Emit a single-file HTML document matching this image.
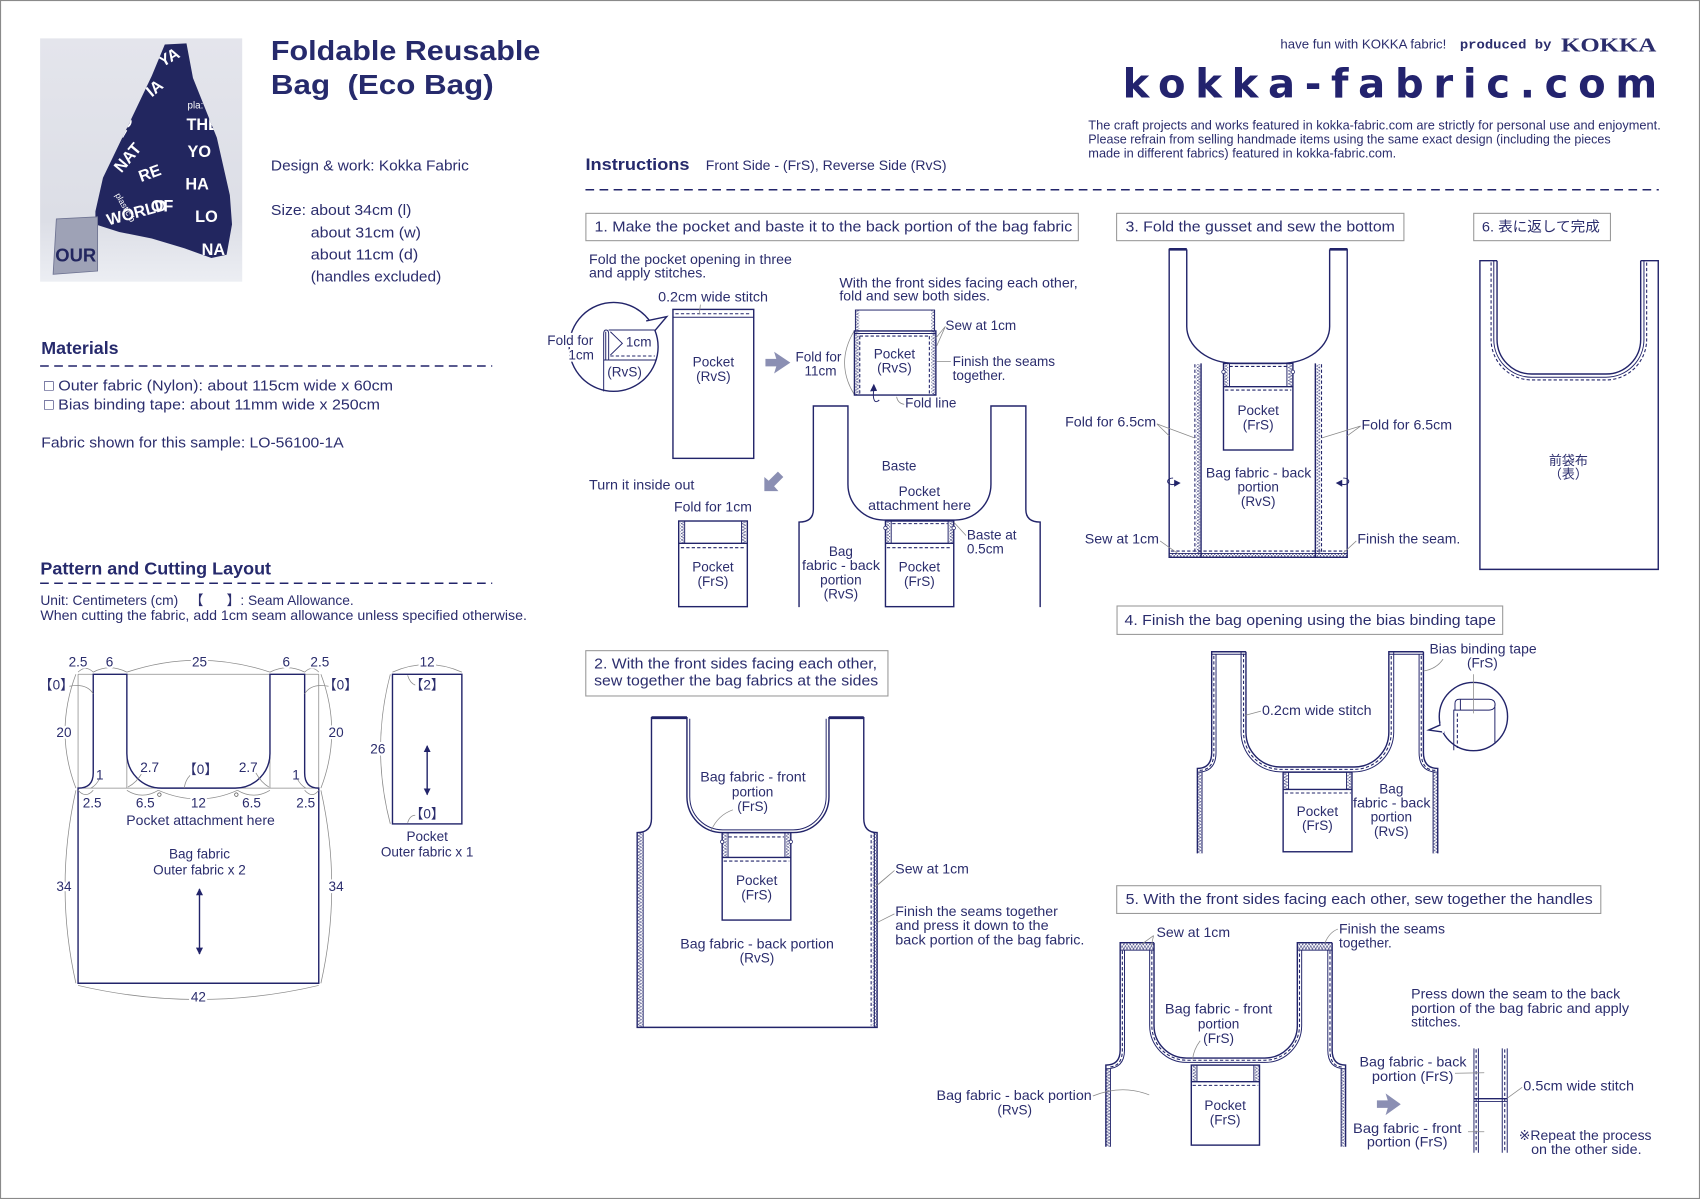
<!DOCTYPE html>
<html><head><meta charset="utf-8">
<style>
html,body{margin:0;padding:0;background:#fff}
svg{display:block}
text{font-family:"Liberation Sans","DejaVu Sans","Noto Sans CJK JP",sans-serif;fill:#2b2d6d;white-space:pre}
.s{font-size:12.5px}
.m{font-size:14px}
.c{text-anchor:middle}
.h{paint-order:stroke;stroke:#fff;stroke-width:4px;stroke-linejoin:round}
.n{fill:none;stroke:#22246a;stroke-width:1.3}
.n2{fill:none;stroke:#22246a;stroke-width:0.9}
.d{fill:none;stroke:#22246a;stroke-width:1;stroke-dasharray:3 2}
.g{fill:none;stroke:#8a8a8a;stroke-width:0.7}
.b{fill:#fff;stroke:#9a9a9a;stroke-width:1}
.z{fill:url(#zz);stroke:none}
.ga{fill:#8b8fb3}
.w{fill:#fff;font-weight:bold}
</style></head><body>
<svg width="1700" height="1199" viewBox="0 0 1568 1106" preserveAspectRatio="none" xmlns="http://www.w3.org/2000/svg" xml:space="preserve">
<defs>
<pattern id="zz" width="4" height="3" patternUnits="userSpaceOnUse"><path d="M0,0 L4,1.5 L0,3" fill="none" stroke="#22246a" stroke-width="0.5"/></pattern>
<pattern id="zh" width="3" height="4" patternUnits="userSpaceOnUse"><path d="M0,0 L1.5,4 L3,0" fill="none" stroke="#22246a" stroke-width="0.5"/></pattern>
<marker id="ah" viewBox="0 0 10 10" refX="9" refY="5" markerWidth="5" markerHeight="5" orient="auto-start-reverse"><path d="M0,0 L10,5 L0,10 z" fill="#22246a"/></marker>
<linearGradient id="pg" x1="0" y1="0" x2="0" y2="1"><stop offset="0" stop-color="#e4e5ec"/><stop offset="0.75" stop-color="#dcdee6"/><stop offset="1" stop-color="#eceef3"/></linearGradient>
<clipPath id="bagclip"><polygon points="152,41 172,40 178,72 200,127 212,180 214,207 209,235 195,238 170,229 140,220 110,214 88,207 88,195 95,164 120,112 140,70"/></clipPath>
</defs>
<rect x="0" y="0" width="1568" height="1106" fill="#fff"/>
<rect x="0.5" y="0.5" width="1567" height="1105" fill="none" stroke="#8a8a8a" stroke-width="1"/>

<!-- ===== HEADER LEFT ===== -->
<rect x="37" y="35.4" width="186.4" height="224.4" fill="url(#pg)"/>
<polygon points="152,41 172,40 178,72 200,127 212,180 214,207 209,235 195,238 170,229 140,220 110,214 88,207 88,195 95,164 120,112 140,70" fill="#22265f"/>
<g clip-path="url(#bagclip)" style="font-size:15px">
<text class="w" x="150" y="62" transform="rotate(-30 150 62)">YA</text>
<text class="w" x="140" y="90" transform="rotate(-40 140 90)">IA</text>
<text class="w" x="172" y="120">THE</text>
<text class="w" x="113" y="128" transform="rotate(-60 113 128)">LO</text>
<text class="w" x="173" y="145">YO</text>
<text class="w" x="112" y="160" transform="rotate(-50 112 160)">NAT</text>
<text class="w" x="130" y="168" transform="rotate(-20 130 168)">RE</text>
<text class="w" x="171" y="175">HA</text>
<text class="w" x="139" y="195">OF</text>
<text class="w" x="100" y="208" transform="rotate(-15 100 208)">WORLD</text>
<text class="w" x="180" y="205">LO</text>
<text class="w" x="186" y="235">NA</text>
<text x="173" y="100" style="fill:#fff;font-size:9px">pla:</text>
<text x="106" y="180" transform="rotate(60 106 180)" style="fill:#fff;font-size:8px">plastic b</text>
</g>
<polygon points="52,202 90,200 90,250 49,253" fill="#9ea2b6" stroke="#6e7392" stroke-width="0.8"/>
<text x="51" y="241" style="font-size:17px;fill:#22265f;font-weight:bold">OUR</text>

<text x="249.9" y="55.4" textLength="248.5" lengthAdjust="spacingAndGlyphs" style="font-size:26px;font-weight:bold;fill:#262a6c">Foldable Reusable</text>
<text x="249.9" y="86.5" textLength="205.4" lengthAdjust="spacingAndGlyphs" style="font-size:26px;font-weight:bold;fill:#262a6c">Bag  (Eco Bag)</text>

<text class="m" x="249.9" y="157.4" textLength="182.5" lengthAdjust="spacingAndGlyphs">Design &amp; work: Kokka Fabric</text>
<text class="m" x="249.9" y="198.3" textLength="129.6" lengthAdjust="spacingAndGlyphs">Size: about 34cm (l)</text>
<text class="m" x="286.6" y="219" textLength="101.7" lengthAdjust="spacingAndGlyphs">about 31cm (w)</text>
<text class="m" x="286.6" y="239.2" textLength="99.2" lengthAdjust="spacingAndGlyphs">about 11cm (d)</text>
<text class="m" x="286.6" y="259.8" textLength="120.4" lengthAdjust="spacingAndGlyphs">(handles excluded)</text>

<text x="38.1" y="326.6" textLength="71.3" lengthAdjust="spacingAndGlyphs" style="font-size:16px;font-weight:bold;fill:#262a6c">Materials</text>
<line x1="37" y1="337.6" x2="454" y2="337.6" stroke="#22246a" stroke-width="1.4" stroke-dasharray="8 5"/>
<text class="m" x="40.6" y="360.4" textLength="321.9" lengthAdjust="spacingAndGlyphs">□ Outer fabric (Nylon): about 115cm wide x 60cm</text>
<text class="m" x="40.6" y="377.6" textLength="309.9" lengthAdjust="spacingAndGlyphs">□ Bias binding tape: about 11mm wide x 250cm</text>
<text class="m" x="38.1" y="412.7" textLength="278.9" lengthAdjust="spacingAndGlyphs">Fabric shown for this sample: LO-56100-1A</text>

<text x="37.2" y="529.8" textLength="212.8" lengthAdjust="spacingAndGlyphs" style="font-size:16px;font-weight:bold;fill:#262a6c">Pattern and Cutting Layout</text>
<line x1="37" y1="538" x2="454" y2="538" stroke="#22246a" stroke-width="1.4" stroke-dasharray="8 5"/>
<text class="s" x="37.2" y="558" textLength="289.1" lengthAdjust="spacingAndGlyphs">Unit: Centimeters (cm)   【      】: Seam Allowance.</text>
<text class="s" x="37.2" y="572" textLength="448.8" lengthAdjust="spacingAndGlyphs">When cutting the fabric, add 1cm seam allowance unless specified otherwise.</text>

<!-- ===== PATTERN ===== -->
<path class="g" stroke="#b0b0b0" stroke-width="1" d="M72,622 L294,622 M72,622 L72,727 M294,622 L294,727 M72,727 L294,727 M117,690 L117,727 M249,690 L249,727"/>
<path class="n" stroke-width="1.5" d="M86,622 L117,622 L117,695 A32,32 0 0 0 149,727 L217,727 A32,32 0 0 0 249,695 L249,622 L281,622 L281,713 Q281,727 294,727 L294,907 L72,907 L72,727 Q86,727 86,713 Z"/>
<rect class="n" stroke-width="1.5" x="362" y="622" width="64" height="138"/>
<path class="g" d="M72,620 Q79,613 86,620 M86,620 Q101,612 117,620 M117,620 Q183,598 249,620 M249,620 Q265,612 281,620 M281,620 Q288,613 294,620
M70,622 Q50,675 70,727 M70,729 Q50,818 70,907 M296,622 Q316,675 296,727 M296,729 Q316,818 296,907 M72,909 Q183,935 294,909
M72,729 Q79,737 86,729 M117,729 Q131,738 146,729 M146,729 Q183,745 219,729 M219,729 Q234,738 249,729 M281,729 Q288,737 294,729
M131,713 Q126,722 118,726 M236,713 Q241,722 248,726 M92,718 Q89,724 84,727 M274,718 Q277,724 282,727
M64,633 Q80,630 86,640 M303,633 Q287,630 281,640 M178,713 Q171,718 170,727
M362,620 Q394,606 426,620 M360,622 Q342,691 360,760 M383,632 Q378,630 376,623 M383,752 Q378,752 376,759"/>
<circle cx="147" cy="733" r="1.6" fill="#fff" stroke="#555" stroke-width="0.7"/>
<circle cx="218" cy="733" r="1.6" fill="#fff" stroke="#555" stroke-width="0.7"/>
<line x1="184" y1="820" x2="184" y2="880" stroke="#22246a" stroke-width="1.3" marker-start="url(#ah)" marker-end="url(#ah)"/>
<line x1="394" y1="688" x2="394" y2="733" stroke="#22246a" stroke-width="1.3" marker-start="url(#ah)" marker-end="url(#ah)"/>
<g class="s">
<text class="c h" x="72" y="615">2.5</text>
<text class="c h" x="101" y="615">6</text>
<text class="c h" x="184" y="615">25</text>
<text class="c h" x="264" y="615">6</text>
<text class="c h" x="295" y="615">2.5</text>
<text class="c h" x="52" y="636">【0】</text>
<text class="c h" x="314" y="636">【0】</text>
<text class="c h" x="59" y="680">20</text>
<text class="c h" x="310" y="680">20</text>
<text class="c h" x="138" y="712">2.7</text>
<text class="c h" x="185" y="714">【0】</text>
<text class="c h" x="229" y="712">2.7</text>
<text class="c" x="92" y="719">1</text>
<text class="c" x="273" y="719">1</text>
<text class="c h" x="85" y="745">2.5</text>
<text class="c h" x="134" y="745">6.5</text>
<text class="c h" x="183" y="745">12</text>
<text class="c h" x="232" y="745">6.5</text>
<text class="c h" x="282" y="745">2.5</text>
<text class="c" x="185" y="761" textLength="137" lengthAdjust="spacingAndGlyphs">Pocket attachment here</text>
<text class="c" x="184" y="792">Bag fabric</text>
<text class="c" x="184" y="806.5">Outer fabric x 2</text>
<text class="c h" x="59" y="822">34</text>
<text class="c h" x="310" y="822">34</text>
<text class="c h" x="183" y="924">42</text>
<text class="c h" x="394" y="615">12</text>
<text class="c" x="394" y="636">【2】</text>
<text class="c h" x="348.5" y="695">26</text>
<text class="c" x="394" y="755">【0】</text>
<text class="c" x="394" y="776">Pocket</text>
<text class="c" x="394" y="790">Outer fabric x 1</text>
</g>

<!-- ===== HEADER RIGHT ===== -->
<text x="1181" y="44.6" textLength="153" lengthAdjust="spacingAndGlyphs" style="font-size:12px">have fun with KOKKA fabric!</text>
<text x="1346.5" y="44.6" textLength="84.5" lengthAdjust="spacingAndGlyphs" style="font-family:'Liberation Mono',monospace;font-size:12px;font-weight:bold">produced by</text>
<text x="1439.8" y="47.7" textLength="87.9" lengthAdjust="spacingAndGlyphs" style="font-family:'Liberation Serif',serif;font-size:18px;font-weight:bold">KOKKA</text>
<text x="1035.5" y="90" textLength="493" lengthAdjust="spacing" style="font-family:'DejaVu Sans',sans-serif;font-size:37px;font-weight:bold;fill:#23236e">kokka-fabric.com</text>
<text x="1003.8" y="119.3" textLength="528" lengthAdjust="spacingAndGlyphs" style="font-size:11.5px">The craft projects and works featured in kokka-fabric.com are strictly for personal use and enjoyment.</text>
<text x="1003.8" y="132.2" textLength="481.8" lengthAdjust="spacingAndGlyphs" style="font-size:11.5px">Please refrain from selling handmade items using the same exact design (including the pieces</text>
<text x="1003.8" y="145.4" textLength="284" lengthAdjust="spacingAndGlyphs" style="font-size:11.5px">made in different fabrics) featured in kokka-fabric.com.</text>

<text x="540" y="157" textLength="96" lengthAdjust="spacingAndGlyphs" style="font-size:15px;font-weight:bold;fill:#262a6c">Instructions</text>
<text class="s" x="651" y="157" textLength="222" lengthAdjust="spacingAndGlyphs">Front Side - (FrS), Reverse Side (RvS)</text>
<line x1="540" y1="175" x2="1530" y2="175" stroke="#22246a" stroke-width="1.4" stroke-dasharray="8 5"/>

<!-- ===== STEP BOXES ===== -->
<rect class="b" x="540.4" y="196.8" width="454.2" height="25.2"/>
<text x="548.3" y="213.7" textLength="440.7" lengthAdjust="spacingAndGlyphs" style="font-size:13.5px">1. Make the pocket and baste it to the back portion of the bag fabric</text>
<rect class="b" x="1029.9" y="196.8" width="265" height="25.2"/>
<text x="1038.1" y="213.7" textLength="248.5" lengthAdjust="spacingAndGlyphs" style="font-size:13.5px">3. Fold the gusset and sew the bottom</text>
<rect class="b" x="1359.3" y="196.8" width="126.1" height="25.2"/>
<text x="1366.8" y="213.7" textLength="108.8" lengthAdjust="spacingAndGlyphs" style="font-size:13px">6. 表に返して完成</text>
<rect class="b" x="540.3" y="600.2" width="278.7" height="41.8"/>
<text x="548" y="616.5" textLength="261" lengthAdjust="spacingAndGlyphs" style="font-size:13.5px">2. With the front sides facing each other,</text>
<text x="548" y="632.5" textLength="262" lengthAdjust="spacingAndGlyphs" style="font-size:13.5px">sew together the bag fabrics at the sides</text>
<rect class="b" x="1030.3" y="559" width="355.7" height="26.2"/>
<text x="1037.2" y="576.6" textLength="342.6" lengthAdjust="spacingAndGlyphs" style="font-size:13.5px">4. Finish the bag opening using the bias binding tape</text>
<rect class="b" x="1030" y="817" width="446.5" height="25.6"/>
<text x="1038.2" y="834" textLength="430.9" lengthAdjust="spacingAndGlyphs" style="font-size:13.5px">5. With the front sides facing each other, sew together the handles</text>

<!-- ===== STEP 1 ===== -->
<g class="s">
<text x="543.3" y="243.5" textLength="187.1" lengthAdjust="spacingAndGlyphs">Fold the pocket opening in three</text>
<text x="543.3" y="256.2" textLength="108.1" lengthAdjust="spacingAndGlyphs">and apply stitches.</text>
<text x="607" y="278.3" textLength="101.4" lengthAdjust="spacingAndGlyphs">0.2cm wide stitch</text>
<text x="774.2" y="265" textLength="219.8" lengthAdjust="spacingAndGlyphs">With the front sides facing each other,</text>
<text x="774.2" y="277.4" textLength="139" lengthAdjust="spacingAndGlyphs">fold and sew both sides.</text>
</g>
<rect class="n" x="620.7" y="285.4" width="74.5" height="137.4"/>
<line class="n2" x1="620.7" y1="292.6" x2="695.2" y2="292.6"/>
<line class="d" x1="623" y1="289.4" x2="693" y2="289.4"/>
<path class="g" d="M646,281 L645,290"/>
<text class="s c" x="658" y="338.3">Pocket</text>
<text class="s c" x="658" y="351.5">(RvS)</text>
<circle cx="566" cy="320" r="41" fill="#fff" stroke="#22246a" stroke-width="1.3"/>
<path d="M596,296 L615,292 L604,305" fill="#fff" stroke="#22246a" stroke-width="1.3" stroke-linejoin="miter"/>
<path d="M594,297 L603,304" stroke="#fff" stroke-width="2.5"/>
<path class="n2" d="M556.8,332 L556.8,308 Q556.8,304.4 559,304.4 Q561.4,304.4 561.4,308 L561.4,332 M558.7,306 L558.7,332 M561.4,304.4 L604,304.4 M556.8,332 L556.8,361 M556.8,332.1 L605,332.1"/>
<path class="n2" d="M563,306 L574,316.7 L563,327.5"/>
<line class="d" x1="563" y1="328.4" x2="604" y2="328.4"/>
<text class="s" x="577.3" y="319.8">1cm</text>
<text class="s" x="560.1" y="347.5">(RvS)</text>
<text class="s h" x="504.8" y="318.3">Fold for</text>
<text class="s c h" x="536" y="331.5">1cm</text>
<path class="ga" d="M706,331 L716,331 L714,324.5 L729,334.5 L714,344.5 L716,338 L706,338 Z"/>
<text class="s" x="733.7" y="333.6">Fold for</text>
<text class="s" x="742" y="346.6">11cm</text>
<path class="g" d="M788,305 Q770,335 788,364"/>
<rect class="n2" x="789" y="286" width="73" height="19.3"/>
<rect class="z" x="789" y="286" width="3.5" height="78"/>
<rect class="z" x="859" y="286" width="3.5" height="78"/>
<rect class="n" x="788.1" y="305.3" width="75.1" height="59.1"/>
<line class="n2" x1="788.1" y1="307.6" x2="863.2" y2="307.6"/>
<path class="d" d="M793,310 L858,310 M793,310 L793,364 M857.2,310 L857.2,364"/>
<text class="s c" x="825" y="330.6">Pocket</text>
<text class="s c" x="825" y="343.8">(RvS)</text>
<path class="n2" d="M811,369 C807,373 804.5,369 806,359"/>
<polygon points="806,354 802.5,361 809,360.5" fill="#22246a"/>
<path class="g" d="M872,301 L863,312 M872,301 L864,319 M877,333.6 L863.5,333.6 M834,373 Q828,372 827,366"/>
<g class="s">
<text x="872" y="304.4">Sew at 1cm</text>
<text x="878.7" y="337.6">Finish the seams</text>
<text x="878.7" y="350.5">together.</text>
<text x="834.9" y="375.8">Fold line</text>
<text x="543.3" y="451.4" textLength="97.2" lengthAdjust="spacingAndGlyphs">Turn it inside out</text>
<text x="621.7" y="472" textLength="71.8" lengthAdjust="spacingAndGlyphs">Fold for 1cm</text>
</g>
<path class="ga" d="M705,440 L705,453 L718,453 L714,448.5 L722.5,440 L717.5,435 L709,443.5 Z"/>
<rect class="n" x="626" y="480.6" width="63.3" height="79"/>
<rect class="z" x="627.5" y="481.5" width="3.5" height="19.5"/>
<rect class="z" x="684.5" y="481.5" width="3.5" height="19.5"/>
<path class="n2" d="M631.5,480.6 L631.5,501.2 M684,480.6 L684,501.2"/>
<line class="n" x1="626" y1="501.2" x2="689.3" y2="501.2"/>
<line class="d" x1="628" y1="505.2" x2="687" y2="505.2"/>
<text class="s c" x="657.6" y="527.4">Pocket</text>
<text class="s c" x="657.6" y="540.6">(FrS)</text>
<path class="n" d="M737,560 L737,481.6 Q750.2,481.6 750.2,470 L750.2,374.5 L782.1,374.5 L782.1,446.7 A33,33 0 0 0 815.1,479.7 L881,479.7 A33,33 0 0 0 914,446.7 L914,374.5 L946.2,374.5 L946.2,470 Q946.2,481.6 959.4,481.6 L959.4,560"/>
<rect class="n" x="816.7" y="480.6" width="63" height="79"/>
<rect class="z" x="817.5" y="481.5" width="3.5" height="19.5"/>
<rect class="z" x="875.5" y="481.5" width="3.5" height="19.5"/>
<path class="n2" d="M822,480.6 L822,501.2 M874.5,480.6 L874.5,501.2"/>
<line class="d" x1="823" y1="483" x2="874" y2="483"/>
<line class="n" x1="816.7" y1="501.2" x2="879.7" y2="501.2"/>
<line class="d" x1="818" y1="505.2" x2="878" y2="505.2"/>
<circle cx="816.7" cy="487" r="1.6" fill="#fff" stroke="#22246a" stroke-width="0.7"/>
<circle cx="879.7" cy="487" r="1.6" fill="#fff" stroke="#22246a" stroke-width="0.7"/>
<path class="g" d="M891,494 L880,482"/>
<g class="s">
<text class="c" x="829.3" y="434.2">Baste</text>
<text class="c" x="848" y="457.6">Pocket</text>
<text class="c" x="848.2" y="470.5" textLength="95" lengthAdjust="spacingAndGlyphs">attachment here</text>
<text class="c" x="848" y="527.4">Pocket</text>
<text class="c" x="848" y="540.6">(FrS)</text>
<text class="c" x="775.6" y="512.9">Bag</text>
<text class="c" x="775.7" y="525.8" textLength="72" lengthAdjust="spacingAndGlyphs">fabric - back</text>
<text class="c" x="775.6" y="539">portion</text>
<text class="c" x="775.6" y="552">(RvS)</text>
<text x="891.8" y="497.5">Baste at</text>
<text x="891.8" y="510.5">0.5cm</text>
</g>

<!-- ===== STEP 2 ===== -->
<path class="n" d="M587.7,947.7 L587.7,768 Q600.9,768 600.9,755 L600.9,662 L633.6,662 L633.6,735 A33,33 0 0 0 666.6,768 L731.6,768 A33,33 0 0 0 764.6,735 L764.6,662 L796.7,662 L796.7,755 Q796.7,768 809,768 L809,947.7 Z"/>
<path class="n2" d="M636.2,663 L636.2,735 A30.5,30.5 0 0 0 666.6,765.5 L731.6,765.5 A30.5,30.5 0 0 0 762,735 L762,663"/>
<path d="M600.9,662 L633.6,662 M764.6,662 L796.7,662" stroke="#22246a" stroke-width="2.6"/>
<rect class="z" x="588.5" y="768" width="4" height="179"/>
<line class="n2" x1="593.2" y1="768" x2="593.2" y2="947.7"/>
<line class="d" x1="803.5" y1="770" x2="803.5" y2="946"/>
<rect class="z" x="805" y="768" width="3.5" height="179"/>
<line class="n2" x1="806.5" y1="768" x2="806.5" y2="947.7"/>
<rect class="n" x="666.1" y="768.1" width="63.3" height="80.6"/>
<rect class="z" x="667" y="769" width="3.5" height="21.5"/>
<rect class="z" x="725" y="769" width="3.5" height="21.5"/>
<path class="n2" d="M671.5,768 L671.5,790.9 M724,768 L724,790.9"/>
<line class="d" x1="672" y1="772" x2="723" y2="772"/>
<line class="n" x1="666.1" y1="790.9" x2="729.4" y2="790.9"/>
<line class="d" x1="667.5" y1="794.3" x2="728" y2="794.3"/>
<circle cx="666.1" cy="776.5" r="1.6" fill="#fff" stroke="#22246a" stroke-width="0.7"/>
<circle cx="729.4" cy="776.5" r="1.6" fill="#fff" stroke="#22246a" stroke-width="0.7"/>
<path class="g" d="M676,747 Q662,752 656,766 M825,803 L810,816 M825,803 L806,819 M825,843 L809,851"/>
<g class="s">
<text class="c" x="694.5" y="721.1" textLength="97.3" lengthAdjust="spacingAndGlyphs">Bag fabric - front</text>
<text class="c" x="694.2" y="734.9">portion</text>
<text class="c" x="694.2" y="748.1">(FrS)</text>
<text class="c" x="697.9" y="816.4">Pocket</text>
<text class="c" x="697.9" y="829.6">(FrS)</text>
<text class="c" x="698.3" y="874.8" textLength="141.7" lengthAdjust="spacingAndGlyphs">Bag fabric - back portion</text>
<text class="c" x="698.2" y="888">(RvS)</text>
<text x="825.8" y="805.7" textLength="67.9" lengthAdjust="spacingAndGlyphs">Sew at 1cm</text>
<text x="825.8" y="845" textLength="149.9" lengthAdjust="spacingAndGlyphs">Finish the seams together</text>
<text x="825.8" y="857.9" textLength="141.4" lengthAdjust="spacingAndGlyphs">and press it down to the</text>
<text x="825.8" y="871.1" textLength="174.4" lengthAdjust="spacingAndGlyphs">back portion of the bag fabric.</text>
</g>

<!-- ===== STEP 3 ===== -->
<path class="n" d="M1094.6,230 L1078.4,230 L1078.4,514.1 L1242.6,514.1 L1242.6,230 L1226.4,230"/>
<path d="M1078.4,230 L1094.6,230 M1226.4,230 L1242.6,230" stroke="#22246a" stroke-width="2.4"/>
<path class="n" d="M1094.6,230 L1094.6,301 A45,34 0 0 0 1139.6,335.2 L1181.4,335.2 A45,34 0 0 0 1226.4,301 L1226.4,230"/>
<line class="n" x1="1107.8" y1="335.2" x2="1107.8" y2="514.1"/>
<line class="d" x1="1102.1" y1="336" x2="1102.1" y2="510"/>
<rect class="z" x="1103.5" y="336" width="3.5" height="174"/>
<line class="n" x1="1213.2" y1="335.2" x2="1213.2" y2="514.1"/>
<line class="d" x1="1218.9" y1="336" x2="1218.9" y2="510"/>
<rect class="z" x="1214.2" y="336" width="3.5" height="174"/>
<rect x="1079" y="510.5" width="163" height="3.5" fill="url(#zh)"/>
<line class="n2" x1="1078.4" y1="510.5" x2="1242.6" y2="510.5"/>
<line class="d" x1="1080" y1="508.3" x2="1241" y2="508.3"/>
<rect class="n" x="1128.5" y="335.2" width="64" height="79.9"/>
<rect class="z" x="1129.3" y="336" width="3.5" height="20.5"/>
<rect class="z" x="1188.2" y="336" width="3.5" height="20.5"/>
<path class="n2" d="M1134,335.2 L1134,356.7 M1187,335.2 L1187,356.7"/>
<line class="d" x1="1134" y1="338" x2="1187" y2="338"/>
<line class="n" x1="1128.5" y1="356.7" x2="1192.5" y2="356.7"/>
<line class="d" x1="1130" y1="359.8" x2="1191" y2="359.8"/>
<circle cx="1128.5" cy="343" r="1.6" fill="#fff" stroke="#22246a" stroke-width="0.7"/>
<circle cx="1192.5" cy="343" r="1.6" fill="#fff" stroke="#22246a" stroke-width="0.7"/>
<path class="g" d="M1067,391 L1078.4,402 M1067,391 L1102,404 M1255,393 L1242.6,402 M1255,393 L1219,404 M1070,499 L1087,511 M1251,499 L1238,511"/>
<path class="n2" d="M1082,441 A4.5,3 0 1 0 1081,447 L1085,446.5"/>
<polygon points="1089,445.5 1083,442.5 1083,449" fill="#22246a"/>
<path class="n2" d="M1239,441 A4.5,3 0 1 1 1240,447 L1236,446.5"/>
<polygon points="1232,445.5 1238,442.5 1238,449" fill="#22246a"/>
<g class="s">
<text class="c" x="1160.5" y="382.8">Pocket</text>
<text class="c" x="1160.5" y="396">(FrS)</text>
<text class="c" x="1160.9" y="440.3" textLength="97.2" lengthAdjust="spacingAndGlyphs">Bag fabric - back</text>
<text class="c" x="1160.5" y="453.6">portion</text>
<text class="c" x="1160.5" y="466.8">(RvS)</text>
<text x="982.4" y="393.6" textLength="84" lengthAdjust="spacingAndGlyphs">Fold for 6.5cm</text>
<text x="1255.8" y="396" textLength="83.5" lengthAdjust="spacingAndGlyphs">Fold for 6.5cm</text>
<text x="1000.5" y="501.2" textLength="68.5" lengthAdjust="spacingAndGlyphs">Sew at 1cm</text>
<text x="1252" y="501.2" textLength="94.9" lengthAdjust="spacingAndGlyphs">Finish the seam.</text>
</g>

<!-- ===== STEP 6 ===== -->
<path class="n" d="M1380.8,240.5 L1365,240.5 L1365,525.2 L1529.5,525.2 L1529.5,240.5 L1513.3,240.5"/>
<path class="n" d="M1380.8,240.5 L1380.8,313 A32,32 0 0 0 1412.8,345 L1481.3,345 A32,32 0 0 0 1513.3,313 L1513.3,240.5"/>
<path class="n2" d="M1377.8,240.5 L1377.8,313 A35,35 0 0 0 1412.8,348 L1481.3,348 A35,35 0 0 0 1516.3,313 L1516.3,240.5"/>
<path class="d" d="M1375.3,242 L1375.3,313 A37.5,37.5 0 0 0 1412.8,350.5 L1481.3,350.5 A37.5,37.5 0 0 0 1518.8,313 L1518.8,242"/>
<text class="c" x="1446.6" y="429" style="font-size:12px">前袋布</text>
<text class="c" x="1446.6" y="441.5" style="font-size:12px">（表）</text>

<!-- ===== STEP 4 ===== -->
<path class="n" d="M1104.4,787.2 L1104.4,708.8 Q1117.6,708.8 1117.6,694 L1117.6,601.2 L1149.2,601.2"/>
<path class="n2" d="M1121.6,603.5 L1121.6,694 Q1121.6,712.3 1104.4,712.3 M1117.6,603.5 L1149.2,603.5"/>
<path class="d" d="M1119.6,605 L1119.6,694 Q1119.6,710.6 1106,710.6"/>
<path class="n" d="M1149.2,601.2 L1149.2,675.5 A32,32 0 0 0 1181.2,707.5 L1249,707.5 A32,32 0 0 0 1281,675.5 L1281,601.2 L1312.9,601.2"/>
<path class="n2" d="M1144.7,601.2 L1144.7,675.5 A36.5,36.5 0 0 0 1181.2,712 L1249,712 A36.5,36.5 0 0 0 1285.5,675.5 L1285.5,601.2 M1281,603.5 L1312.9,603.5"/>
<path class="d" d="M1147,603 L1147,675.5 A34.2,34.2 0 0 0 1181.2,709.7 L1249,709.7 A34.2,34.2 0 0 0 1283.2,675.5 L1283.2,603"/>
<path class="n" d="M1312.9,601.2 L1312.9,694 Q1312.9,708.8 1326.1,708.8 L1326.1,787.2"/>
<path class="n2" d="M1308.9,603.5 L1308.9,694 Q1308.9,712.3 1326.1,712.3"/>
<path class="d" d="M1310.9,605 L1310.9,694 Q1310.9,710.6 1324,710.6"/>
<rect class="z" x="1104.8" y="712" width="3.8" height="75"/>
<line class="n2" x1="1108.7" y1="712" x2="1108.7" y2="787.2"/>
<rect class="z" x="1322" y="712" width="3.8" height="75"/>
<line class="n2" x1="1321.8" y1="712" x2="1321.8" y2="787.2"/>
<rect class="n" x="1183.5" y="712.3" width="63.5" height="73.4"/>
<rect class="z" x="1184.3" y="713" width="3.5" height="15"/>
<rect class="z" x="1242.7" y="713" width="3.5" height="15"/>
<path class="n2" d="M1188.5,712 L1188.5,728.2 M1242,712 L1242,728.2"/>
<line class="n" x1="1183.5" y1="728.2" x2="1247" y2="728.2"/>
<line class="d" x1="1185" y1="731.5" x2="1246" y2="731.5"/>
<circle cx="1359" cy="661" r="31.5" fill="#fff" stroke="#22246a" stroke-width="1.3"/>
<path d="M1330,668 L1317.8,673.4 L1332.7,675.5" fill="#fff" stroke="#22246a" stroke-width="1.3"/>
<path d="M1329.5,667 L1331.5,676" stroke="#fff" stroke-width="2.2"/>
<path class="n2" d="M1340.9,692 L1340.9,655 L1373,655 Q1379,655 1379,650 Q1379,645 1373,645 L1346,645 Q1342,645 1342,649 L1342,655 M1378.8,650 L1378.8,685 M1347,645 L1347,655"/>
<line class="d" x1="1344.2" y1="658" x2="1344.2" y2="690"/>
<path class="g" d="M1359,622 L1359,658 M1331,608 Q1325,617 1313,619 M1163,656 L1148,660"/>
<g class="s">
<text x="1164" y="659.6" textLength="101.1" lengthAdjust="spacingAndGlyphs">0.2cm wide stitch</text>
<text x="1318.5" y="602.7" textLength="98.8" lengthAdjust="spacingAndGlyphs">Bias binding tape</text>
<text class="c" x="1367.3" y="615.9">(FrS)</text>
<text class="c" x="1283.3" y="731.9">Bag</text>
<text class="c" x="1283.7" y="744.8" textLength="71.5" lengthAdjust="spacingAndGlyphs">fabric - back</text>
<text class="c" x="1283.3" y="758">portion</text>
<text class="c" x="1283.3" y="771.2">(RvS)</text>
<text class="c" x="1215.1" y="752.8">Pocket</text>
<text class="c" x="1215.1" y="765.7">(FrS)</text>
</g>

<!-- ===== STEP 5 ===== -->
<path class="n" d="M1020,1057.8 L1020,982.5 Q1033.2,982.5 1033.2,968.6 L1033.2,869.6 L1064.4,869.6"/>
<path class="n2" d="M1037.2,876.4 L1037.2,968.6 Q1037.2,986 1020,986 M1033.2,876.4 L1064.4,876.4"/>
<path class="d" d="M1035.2,877 L1035.2,968.6 Q1035.2,984.3 1022,984.3"/>
<rect x="1034" y="870.3" width="30" height="5.8" fill="url(#zh)"/>
<path class="n" d="M1064.4,869.6 L1064.4,946 A30,30 0 0 0 1094.4,976 L1166.6,976 A30,30 0 0 0 1196.6,946 L1196.6,869.6 L1228.7,869.6"/>
<path class="n2" d="M1060.4,876.4 L1060.4,946 A34,34 0 0 0 1094.4,980 L1166.6,980 A34,34 0 0 0 1200.6,946 L1200.6,876.4 M1196.6,876.4 L1228.7,876.4"/>
<path class="d" d="M1062.4,877 L1062.4,946 A32,32 0 0 0 1094.4,978 L1166.6,978 A32,32 0 0 0 1198.6,946 L1198.6,877"/>
<rect x="1197.4" y="870.3" width="30.5" height="5.8" fill="url(#zh)"/>
<path class="n" d="M1228.7,869.6 L1228.7,968.6 Q1228.7,982.5 1241.1,982.5 L1241.1,1057.8"/>
<path class="n2" d="M1224.7,876.4 L1224.7,968.6 Q1224.7,986 1241.1,986"/>
<path class="d" d="M1226.7,877 L1226.7,968.6 Q1226.7,984.3 1239,984.3"/>
<rect class="z" x="1020.4" y="986" width="3.6" height="71.8"/>
<line class="n2" x1="1024.2" y1="986" x2="1024.2" y2="1057.8"/>
<rect class="z" x="1237.3" y="986" width="3.6" height="71.8"/>
<line class="n2" x1="1237" y1="986" x2="1237" y2="1057.8"/>
<rect class="n" x="1098.8" y="982.5" width="62.9" height="73.8"/>
<rect class="z" x="1099.6" y="983.2" width="3.5" height="14.5"/>
<rect class="z" x="1157.4" y="983.2" width="3.5" height="14.5"/>
<path class="n2" d="M1104,982.5 L1104,997.8 M1156.5,982.5 L1156.5,997.8"/>
<line class="n" x1="1098.8" y1="997.8" x2="1161.7" y2="997.8"/>
<line class="d" x1="1100" y1="1001.2" x2="1160.5" y2="1001.2"/>
<path class="ga" d="M1270,1015 L1280,1015 L1278,1008.6 L1292,1018.6 L1278,1028.6 L1280,1022 L1270,1022 Z"/>
<path class="n2" d="M1359.5,967.1 L1359.5,1063.3 M1363.6,967.1 L1363.6,1063.3 M1385.6,967.1 L1385.6,1063.3 M1390.2,967.1 L1390.2,1063.3"/>
<path class="d" d="M1361.5,968 L1361.5,1062 M1387.9,968 L1387.9,1062"/>
<path d="M1359.5,1013.5 L1390.2,1013.5" stroke="#22246a" stroke-width="1.3"/>
<path d="M1359.5,1016 L1390.2,1016" stroke="#22246a" stroke-width="0.8"/>
<path class="g" d="M1064,863 L1053,871 M1064,863 L1062,872 M1234,857 Q1226,860 1222,870 M1107,960 Q1101,968 1100,977 M1008,1011 Q1035,1000 1060,1010
M1342,990 L1369,989.5 M1354,1044 L1369,1044 M1404,1003 L1390.2,1013"/>
<g class="s">
<text x="1066.7" y="864.1" textLength="67.9" lengthAdjust="spacingAndGlyphs">Sew at 1cm</text>
<text x="1235.1" y="861" textLength="97.7" lengthAdjust="spacingAndGlyphs">Finish the seams</text>
<text x="1235.1" y="874.2">together.</text>
<text class="c" x="1124" y="934.8" textLength="99.1" lengthAdjust="spacingAndGlyphs">Bag fabric - front</text>
<text class="c" x="1124" y="948.6">portion</text>
<text class="c" x="1124" y="961.9">(FrS)</text>
<text class="c" x="935.4" y="1014.8" textLength="143.2" lengthAdjust="spacingAndGlyphs">Bag fabric - back portion</text>
<text class="c" x="935.9" y="1028">(RvS)</text>
<text class="c" x="1130" y="1024">Pocket</text>
<text class="c" x="1130" y="1037.2">(FrS)</text>
<text x="1301.6" y="921" textLength="192.8" lengthAdjust="spacingAndGlyphs">Press down the seam to the back</text>
<text x="1301.6" y="934.2" textLength="201" lengthAdjust="spacingAndGlyphs">portion of the bag fabric and apply</text>
<text x="1301.6" y="947.1">stitches.</text>
<text x="1254" y="984" textLength="98.6" lengthAdjust="spacingAndGlyphs">Bag fabric - back</text>
<text x="1265.4" y="997.2" textLength="75.2" lengthAdjust="spacingAndGlyphs">portion (FrS)</text>
<text x="1405" y="1006.1" textLength="102.2" lengthAdjust="spacingAndGlyphs">0.5cm wide stitch</text>
<text x="1248" y="1044.9" textLength="100" lengthAdjust="spacingAndGlyphs">Bag fabric - front</text>
<text x="1260.8" y="1057.8" textLength="74.3" lengthAdjust="spacingAndGlyphs">portion (FrS)</text>
<text x="1400.8" y="1051.6" textLength="122.5" lengthAdjust="spacingAndGlyphs">※Repeat the process</text>
<text x="1412.2" y="1064.6" textLength="101.9" lengthAdjust="spacingAndGlyphs">on the other side.</text>
</g>
</svg>
</body></html>
